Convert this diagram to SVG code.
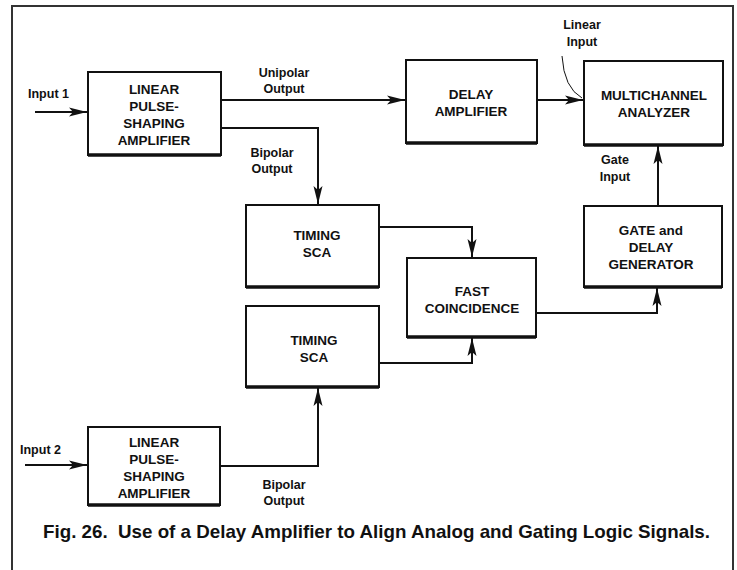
<svg xmlns="http://www.w3.org/2000/svg" width="737" height="570" viewBox="0 0 737 570">
<style>
.box{fill:#fff;stroke:#111;stroke-width:2}
.sh{stroke:#111;stroke-width:3.5;fill:none}
.t{font-family:"Liberation Sans",Arial,sans-serif;font-weight:bold;font-size:13.5px;fill:#111;text-anchor:middle}
.l{font-family:"Liberation Sans",Arial,sans-serif;font-weight:bold;font-size:12.5px;fill:#111;text-anchor:middle}
.s{text-anchor:start}
.c{stroke:#111;stroke-width:2;fill:none}
</style>
<defs>
<marker id="ah" markerUnits="userSpaceOnUse" markerWidth="20" markerHeight="12" refX="18" refY="6" orient="auto">
<path d="M0,1.5 L18,6 L0,10.5 L4,6 Z" fill="#111"/>
</marker>
</defs>
<rect x="0" y="0" width="737" height="570" fill="#fff"/>
<path d="M12,570 V6 H733 V570" stroke="#333" stroke-width="2" fill="none"/>

<g id="connectors">
<line class="c" x1="35" y1="112" x2="87" y2="112" marker-end="url(#ah)"/>
<line class="c" x1="221" y1="100" x2="405" y2="100" marker-end="url(#ah)"/>
<polyline class="c" points="221,128 318,128 318,204" marker-end="url(#ah)"/>
<line class="c" x1="537" y1="100" x2="583" y2="100" marker-end="url(#ah)"/>
<path d="M562,56 Q564,88 582,98" stroke="#111" stroke-width="1" fill="none"/>
<line class="c" x1="658" y1="206" x2="658" y2="146" marker-end="url(#ah)"/>
<polyline class="c" points="379,227 472,227 472,257" marker-end="url(#ah)"/>
<polyline class="c" points="379,363 472,363 472,338" marker-end="url(#ah)"/>
<polyline class="c" points="536,313 657,313 657,288" marker-end="url(#ah)"/>
<line class="c" x1="25" y1="465" x2="87" y2="465" marker-end="url(#ah)"/>
<polyline class="c" points="220,466 318,466 318,388" marker-end="url(#ah)"/>
</g>

<g id="labels">
<text class="l s" x="28" y="98">Input 1</text>
<text class="l" x="284" y="77">Unipolar</text>
<text class="l" x="284" y="93">Output</text>
<text class="l" x="272" y="157">Bipolar</text>
<text class="l" x="272" y="173">Output</text>
<text class="l" x="582" y="29">Linear</text>
<text class="l" x="582" y="46">Input</text>
<text class="l" x="615" y="164">Gate</text>
<text class="l" x="615" y="181">Input</text>
<text class="l s" x="20" y="454">Input 2</text>
<text class="l" x="284" y="489">Bipolar</text>
<text class="l" x="284" y="505">Output</text>
</g>

<g id="amp1">
<rect class="box" x="88" y="72" width="133" height="83"/>
<line class="sh" x1="88" y1="155" x2="221" y2="155"/>
<text class="t" x="154" y="94">LINEAR</text>
<text class="t" x="154" y="111">PULSE-</text>
<text class="t" x="154" y="128">SHAPING</text>
<text class="t" x="154" y="145">AMPLIFIER</text>
</g>

<g id="delay">
<rect class="box" x="406" y="60" width="131" height="83"/>
<line class="sh" x1="406" y1="143" x2="537" y2="143"/>
<text class="t" x="471" y="99">DELAY</text>
<text class="t" x="471" y="116">AMPLIFIER</text>
</g>

<g id="mca">
<rect class="box" x="584" y="61" width="139" height="84"/>
<line class="sh" x1="584" y1="145" x2="723" y2="145"/>
<text class="t" x="654" y="100">MULTICHANNEL</text>
<text class="t" x="654" y="117">ANALYZER</text>
</g>

<g id="sca1">
<rect class="box" x="246" y="205" width="133" height="82"/>
<line class="sh" x1="246" y1="287" x2="379" y2="287"/>
<text class="t" x="317" y="240">TIMING</text>
<text class="t" x="317" y="257">SCA</text>
</g>

<g id="sca2">
<rect class="box" x="246" y="306" width="133" height="81"/>
<line class="sh" x1="246" y1="387" x2="379" y2="387"/>
<text class="t" x="314" y="345">TIMING</text>
<text class="t" x="314" y="362">SCA</text>
</g>

<g id="coinc">
<rect class="box" x="407" y="258" width="129" height="79"/>
<line class="sh" x1="407" y1="337" x2="536" y2="337"/>
<text class="t" x="472" y="296">FAST</text>
<text class="t" x="472" y="313">COINCIDENCE</text>
</g>

<g id="gate">
<rect class="box" x="584" y="206" width="138" height="81"/>
<line class="sh" x1="584" y1="287" x2="722" y2="287"/>
<text class="t" x="651" y="235">GATE and</text>
<text class="t" x="651" y="252">DELAY</text>
<text class="t" x="651" y="269">GENERATOR</text>
</g>

<g id="amp2">
<rect class="box" x="88" y="427" width="132" height="78"/>
<line class="sh" x1="88" y1="505" x2="220" y2="505"/>
<text class="t" x="154" y="447">LINEAR</text>
<text class="t" x="154" y="464">PULSE-</text>
<text class="t" x="154" y="481">SHAPING</text>
<text class="t" x="154" y="498">AMPLIFIER</text>
</g>

<text x="43" y="538" font-family="Liberation Sans, Arial, sans-serif" font-weight="bold" font-size="19" fill="#111" textLength="667" lengthAdjust="spacingAndGlyphs" xml:space="preserve">Fig. 26.  Use of a Delay Amplifier to Align Analog and Gating Logic Signals.</text>
</svg>
